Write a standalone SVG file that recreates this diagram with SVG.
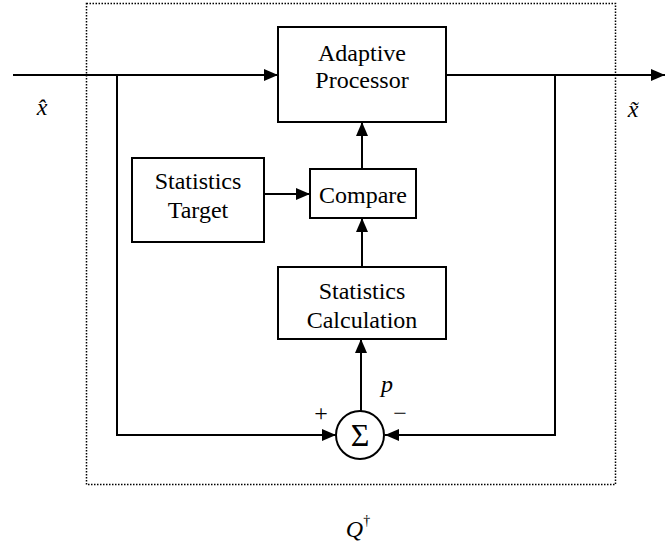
<svg xmlns="http://www.w3.org/2000/svg" width="672" height="550" viewBox="0 0 672 550">
<style>
.box{fill:#fff;stroke:#000;stroke-width:2}
.ln{fill:none;stroke:#000;stroke-width:2}
.t{font-family:"Liberation Serif","Times New Roman",serif;font-size:24px;text-anchor:middle;fill:#000}
.i{font-family:"Liberation Serif","Times New Roman",serif;font-style:italic;font-size:24px;text-anchor:middle;fill:#000}
</style>
<defs>
<marker id="ah" viewBox="0 0 14 12" refX="14" refY="6" markerWidth="14" markerHeight="12" markerUnits="userSpaceOnUse" orient="auto">
<path d="M0,0 L14,6 L0,12 Z" fill="#000"/>
</marker>
</defs>
<rect x="86.5" y="3.5" width="529" height="481" fill="none" stroke="#000" stroke-width="1.5" stroke-dasharray="1.5,1.5"/>
<g id="connectors">
<line class="ln" x1="13" y1="75" x2="278" y2="75" marker-end="url(#ah)"/>
<line class="ln" x1="446" y1="75" x2="665" y2="75" marker-end="url(#ah)"/>
<polyline class="ln" points="117,75 117,435 336,435" marker-end="url(#ah)"/>
<polyline class="ln" points="555,75 555,435 385,435" marker-end="url(#ah)"/>
<line class="ln" x1="361" y1="411" x2="361" y2="339" marker-end="url(#ah)"/>
<line class="ln" x1="362" y1="267" x2="362" y2="218" marker-end="url(#ah)"/>
<line class="ln" x1="362" y1="169" x2="362" y2="122" marker-end="url(#ah)"/>
<line class="ln" x1="264" y1="194" x2="310" y2="194" marker-end="url(#ah)"/>
</g>
<g id="adaptive">
<rect class="box" x="278" y="27" width="168" height="95"/>
<text class="t" x="362" y="61">Adaptive</text>
<text class="t" x="362" y="88">Processor</text>
</g>
<g id="target">
<rect class="box" x="132" y="158" width="132" height="84"/>
<text class="t" x="198" y="189">Statistics</text>
<text class="t" x="198" y="218">Target</text>
</g>
<g id="compare">
<rect class="box" x="310" y="169" width="106" height="49"/>
<text class="t" x="363" y="203">Compare</text>
</g>
<g id="calc">
<rect class="box" x="278" y="267" width="168" height="72"/>
<text class="t" x="362" y="299">Statistics</text>
<text class="t" x="362" y="328">Calculation</text>
</g>
<g id="sum">
<circle cx="360" cy="435" r="24" fill="#fff" stroke="#000" stroke-width="2"/>
<text class="t" x="360" y="446" style="font-size:32px">Σ</text>
</g>
<g id="labels">
<text class="i" x="42" y="115">x̂</text>
<text class="i" x="633" y="117">x̃</text>
<text class="i" x="387" y="392">p</text>
<text class="t" x="321" y="421" style="font-size:24px">+</text>
<text class="t" x="400" y="421" style="font-size:24px">−</text>
<text class="i" x="358" y="537">Q<tspan dy="-12" font-size="14" font-style="normal">†</tspan></text>
</g>
</svg>
